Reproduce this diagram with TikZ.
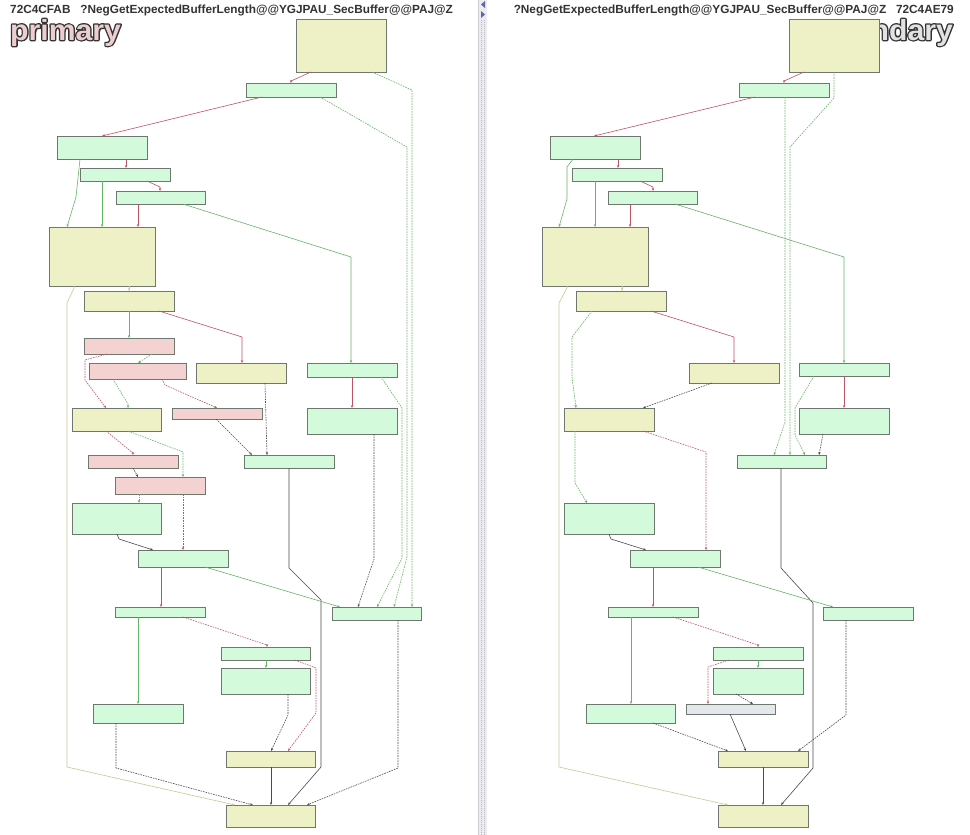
\documentclass[tikz,border=0pt]{standalone}
\usepackage{fontspec}
\setmainfont{Liberation Sans}
\usetikzlibrary{arrows.meta}
\definecolor{gfill}{HTML}{D4FADC}
\definecolor{yfill}{HTML}{EEF0C6}
\definecolor{pfill}{HTML}{F4D2D2}
\definecolor{sfill}{HTML}{E4E8EC}
\definecolor{bord}{HTML}{6E786E}
\definecolor{cred}{HTML}{BC5466}
\definecolor{cgrn}{HTML}{66B466}
\definecolor{cdrk}{HTML}{4A4A4A}
\definecolor{cyel}{HTML}{C8C890}
\definecolor{ttl}{HTML}{333333}
\definecolor{prifill}{HTML}{EECDD0}
\definecolor{secfill}{HTML}{E2E2E4}
\definecolor{outc}{HTML}{333333}
\definecolor{strip}{HTML}{ECECF0}
\definecolor{stripdot}{HTML}{B8B8C4}
\definecolor{tri}{HTML}{5A68A8}
\tikzset{
 box/.style={draw=bord, line width=0.7pt, inner sep=0pt, outer sep=0pt, anchor=north west},
 gb/.style={box, fill=gfill}, yb/.style={box, fill=yfill}, pb/.style={box, fill=pfill}, sb/.style={box, fill=sfill},
 edge/.style={line width=0.6pt, -{Stealth[length=3pt,width=2.4pt]}},
 er/.style={edge, draw=cred}, eg/.style={edge, draw=cgrn}, ed/.style={edge, draw=cdrk}, ey/.style={edge, draw=cyel},
 dsh/.style={dash pattern=on 1.6pt off 1pt},
 title/.style={font=\bfseries\fontsize{11.8}{12}\selectfont, text=ttl, inner sep=0pt},
 bigword/.style={font=\bfseries\fontsize{29}{29}\selectfont, inner sep=0pt, xscale=1.04},
}
\newcommand\bx[6]{\node[#1, minimum width=#5pt, minimum height=#6pt] (#2) at (#3,#4) {};}
\newcommand\strk[1]{{\color{outc}\special{pdf:literal direct 1 Tr 2.6 w 1 j}#1\special{pdf:literal direct 0 Tr}}}
\begin{document}
\begin{tikzpicture}[x=1pt,y=-1pt]
\useasboundingbox[fill=white] (0,0) rectangle (970,835);
% divider strip
\fill[strip] (479,0) rectangle (487,835);
\draw[stripdot, line width=0.6pt, dash pattern=on 0.6pt off 1.4pt] (481,20) -- (481,835);
\draw[stripdot, line width=0.6pt, dash pattern=on 0.6pt off 1.4pt] (484.5,20) -- (484.5,835);
\draw[stripdot!70, line width=0.4pt] (478.5,0) -- (478.5,835);
\fill[tri] (485,1) -- (481,4.5) -- (485,8) -- cycle;
\fill[tri] (481,11) -- (485,14.5) -- (481,18) -- cycle;
% titles
\node[title, anchor=base west] (t1) at (10,13) {72C4CFAB\ \ \ ?NegGetExpectedBufferLength@@YGJPAU\_SecBuffer@@PAJ@Z};
\node[title, anchor=base east] (t2) at (954,13) {?NegGetExpectedBufferLength@@YGJPAU\_SecBuffer@@PAJ@Z\ \ \ 72C4AE79};
\node[bigword, anchor=base west] (w1o) at (10,40) {\strk{primary}};
\node[bigword, anchor=base west, text=prifill] (w1) at (10,40) {primary};
\node[bigword, anchor=base east] (w2o) at (953,40) {\strk{secondary}};
\node[bigword, anchor=base east, text=secfill] (w2) at (953,40) {secondary};
% ---------------- left graph ----------------
\bx{yb}{L0}{296}{19}{90}{53}
\bx{gb}{L1}{246}{83}{90}{14}
\bx{gb}{L2}{57}{136}{90}{23}
\bx{gb}{L3}{80}{168}{90}{13}
\bx{gb}{L4}{116}{191}{89}{13}
\bx{yb}{L5}{49}{227}{106}{59}
\bx{yb}{L6}{84}{291}{90}{20}
\bx{pb}{L7}{84}{338}{90}{16}
\bx{pb}{L8}{89}{363}{97}{16}
\bx{yb}{L9}{196}{363}{90}{20}
\bx{yb}{L10}{72}{408}{89}{23}
\bx{gb}{L11}{307}{363}{90}{14}
\bx{pb}{L12}{172}{408}{90}{11}
\bx{gb}{L13}{307}{408}{90}{26}
\bx{gb}{L14}{244}{455}{90}{13}
\bx{pb}{L15}{88}{455}{90}{13}
\bx{pb}{L16}{115}{477}{90}{17}
\bx{gb}{L17}{72}{503}{89}{31}
\bx{gb}{L18}{138}{550}{90}{17}
\bx{gb}{L19}{115}{607}{90}{10}
\bx{gb}{L20}{332}{607}{89}{13}
\bx{gb}{L21}{221}{647}{89}{13}
\bx{gb}{L22}{221}{668}{89}{26}
\bx{gb}{L23}{93}{704}{90}{19}
\bx{yb}{L24}{226}{751}{89}{16}
\bx{yb}{L25}{226}{805}{89}{22}
% left edges
\draw[er] (311,0|-L0.south) -- (291,81) -- (291,0|-L1.north);
\draw[eg,dsh] (372,0|-L0.south) -- (412,90) -- (412,0|-L20.north);
\draw[er] (262,0|-L1.south) -- (102,0|-L2.north);
\draw[eg,dsh] (320,0|-L1.south) -- (407,147) -- (407,557) -- (394,0|-L20.north);
\draw[er] (126,0|-L2.south) -- (126,0|-L3.north);
\draw[eg] (80,0|-L2.south) -- (76,197) -- (67,0|-L5.north);
\draw[eg] (102,0|-L3.south) -- (102,0|-L5.north);
\draw[er] (147,0|-L3.south) -- (160,187) -- (160,0|-L4.north);
\draw[er] (138,0|-L4.south) -- (138,0|-L5.north);
\draw[eg] (183,0|-L4.south) -- (351,257) -- (351,0|-L11.north);
\draw[ey] (129,0|-L5.south) -- (129,0|-L6.north);
\draw[ey] (75,0|-L5.south) -- (67,303) -- (67,767) -- (235,0|-L25.north);
\draw[eg] (129,0|-L6.south) -- (129,0|-L7.north);
\draw[er] (159,0|-L6.south) -- (242,337) -- (242,0|-L9.north);
\draw[er,dsh] (107,0|-L7.south) -- (85,360) -- (85,380) -- (106,0|-L10.north);
\draw[eg,dsh] (152,0|-L7.south) -- (138,0|-L8.north);
\draw[eg,dsh] (113,0|-L8.south) -- (128,404) -- (128,0|-L10.north);
\draw[er,dsh] (162,0|-L8.south) -- (165,385) -- (217,0|-L12.north);
\draw[ed,dsh] (265,0|-L9.south) -- (267,0|-L14.north);
\draw[ed,dsh] (216,0|-L12.south) -- (252,0|-L14.north);
\draw[er] (352,0|-L11.south) -- (352,0|-L13.north);
\draw[eg,dsh] (381,0|-L11.south) -- (402,408) -- (402,558) -- (377,0|-L20.north);
\draw[ed,dsh] (374,0|-L13.south) -- (374,559) -- (358,0|-L20.north);
\draw[er,dsh] (106,0|-L10.south) -- (133,453) -- (133,0|-L15.north);
\draw[eg,dsh] (128,0|-L10.south) -- (183,452) -- (183,0|-L16.north);
\draw[ed,dsh] (133,0|-L15.south) -- (138,0|-L16.north);
\draw[eg,dsh] (139,0|-L16.south) -- (139,0|-L17.north);
\draw[er,dsh] (183,0|-L16.south) -- (183,0|-L18.north);
\draw[ed] (117,0|-L17.south) -- (119,539) -- (153,0|-L18.north);
\draw[ed] (289,0|-L14.south) -- (289,568) -- (321,600) -- (321,767) -- (288,0|-L25.north);
\draw[er] (161,0|-L18.south) -- (161,0|-L19.north);
\draw[eg] (205,0|-L18.south) -- (340,0|-L20.north);
\draw[eg] (138,0|-L19.south) -- (138,0|-L23.north);
\draw[er,dsh] (183,0|-L19.south) -- (267,645) -- (267,0|-L21.north);
\draw[eg] (266,0|-L21.south) -- (266,0|-L22.north);
\draw[er,dsh] (295,0|-L21.south) -- (316,668) -- (316,713) -- (288,0|-L24.north);
\draw[ed,dsh] (288,0|-L22.south) -- (288,715) -- (271,0|-L24.north);
\draw[ed,dsh] (116,0|-L23.south) -- (116,768) -- (253,0|-L25.north);
\draw[ed] (271,0|-L24.south) -- (271,0|-L25.north);
\draw[ed,dsh] (398,0|-L20.south) -- (398,768) -- (307,0|-L25.north);
% ---------------- right graph ----------------
\bx{yb}{R0}{789}{19}{90}{53}
\bx{gb}{R1}{739}{83}{90}{14}
\bx{gb}{R2}{550}{136}{90}{23}
\bx{gb}{R3}{572}{168}{90}{13}
\bx{gb}{R4}{608}{191}{89}{13}
\bx{yb}{R5}{542}{227}{106}{59}
\bx{yb}{R6}{576}{291}{90}{20}
\bx{yb}{R9}{689}{363}{90}{20}
\bx{yb}{R10}{564}{408}{90}{23}
\bx{gb}{R11}{799}{363}{90}{13}
\bx{gb}{R13}{799}{408}{90}{26}
\bx{gb}{R14}{737}{455}{89}{13}
\bx{gb}{R17}{564}{503}{90}{31}
\bx{gb}{R18}{630}{550}{90}{17}
\bx{gb}{R19}{608}{607}{90}{10}
\bx{gb}{R20}{823}{607}{90}{13}
\bx{gb}{R21}{713}{647}{90}{13}
\bx{gb}{R22}{713}{668}{90}{26}
\bx{gb}{R23}{586}{704}{89}{19}
\bx{sb}{R26}{686}{704}{89}{10}
\bx{yb}{R24}{718}{751}{90}{16}
\bx{yb}{R25}{718}{805}{90}{22}
% right edges
\draw[er] (804,0|-R0.south) -- (784,81) -- (784,0|-R1.north);
\draw[eg,dsh] (834,0|-R0.south) -- (834,98) -- (790,147) -- (790,0|-R14.north);
\draw[eg,dsh] (785,0|-R1.south) -- (785,422) -- (774,0|-R14.north);
\draw[er] (755,0|-R1.south) -- (594,0|-R2.north);
\draw[er] (618,0|-R2.south) -- (618,0|-R3.north);
\draw[eg] (573,0|-R2.south) -- (567,167) -- (567,199) -- (559,0|-R5.north);
\draw[eg] (595,0|-R3.south) -- (595,0|-R5.north);
\draw[er] (640,0|-R3.south) -- (653,187) -- (653,0|-R4.north);
\draw[er] (630,0|-R4.south) -- (630,0|-R5.north);
\draw[eg] (675,0|-R4.south) -- (844,257) -- (844,0|-R11.north);
\draw[ey] (622,0|-R5.south) -- (622,0|-R6.north);
\draw[ey] (568,0|-R5.south) -- (559,303) -- (559,767) -- (728,0|-R25.north);
\draw[eg,dsh] (592,0|-R6.south) -- (572,337) -- (572,377) -- (576,0|-R10.north);
\draw[er] (651,0|-R6.south) -- (734,337) -- (734,0|-R9.north);
\draw[ed,dsh] (712,0|-R9.south) -- (643,0|-R10.north);
\draw[eg,dsh] (575,0|-R10.south) -- (575,483) -- (587,0|-R17.north);
\draw[er,dsh] (643,0|-R10.south) -- (706,452) -- (706,0|-R18.north);
\draw[ed] (609,0|-R17.south) -- (611,539) -- (646,0|-R18.north);
\draw[er] (844,0|-R11.south) -- (844,0|-R13.north);
\draw[eg,dsh] (814,0|-R11.south) -- (795,408) -- (795,435) -- (805,0|-R14.north);
\draw[ed,dsh] (823,0|-R13.south) -- (819,0|-R14.north);
\draw[ed] (781,0|-R14.south) -- (781,568) -- (813,603) -- (813,768) -- (781,0|-R25.north);
\draw[er] (653,0|-R18.south) -- (653,0|-R19.north);
\draw[eg] (698,0|-R18.south) -- (833,0|-R20.north);
\draw[eg] (631,0|-R19.south) -- (631,0|-R23.north);
\draw[er,dsh] (673,0|-R19.south) -- (758,645) -- (758,0|-R21.north);
\draw[eg] (758,0|-R21.south) -- (758,0|-R22.north);
\draw[er,dsh] (729,0|-R21.south) -- (708,667) -- (708,0|-R26.north);
\draw[ed,dsh] (736,0|-R22.south) -- (753,0|-R26.north);
\draw[ed,dsh] (653,0|-R23.south) -- (728,0|-R24.north);
\draw[ed] (730,0|-R26.south) -- (746,0|-R24.north);
\draw[ed,dsh] (846,0|-R20.south) -- (846,715) -- (798,0|-R24.north);
\draw[ed] (763,0|-R24.south) -- (763,0|-R25.north);
\end{tikzpicture}
\end{document}
